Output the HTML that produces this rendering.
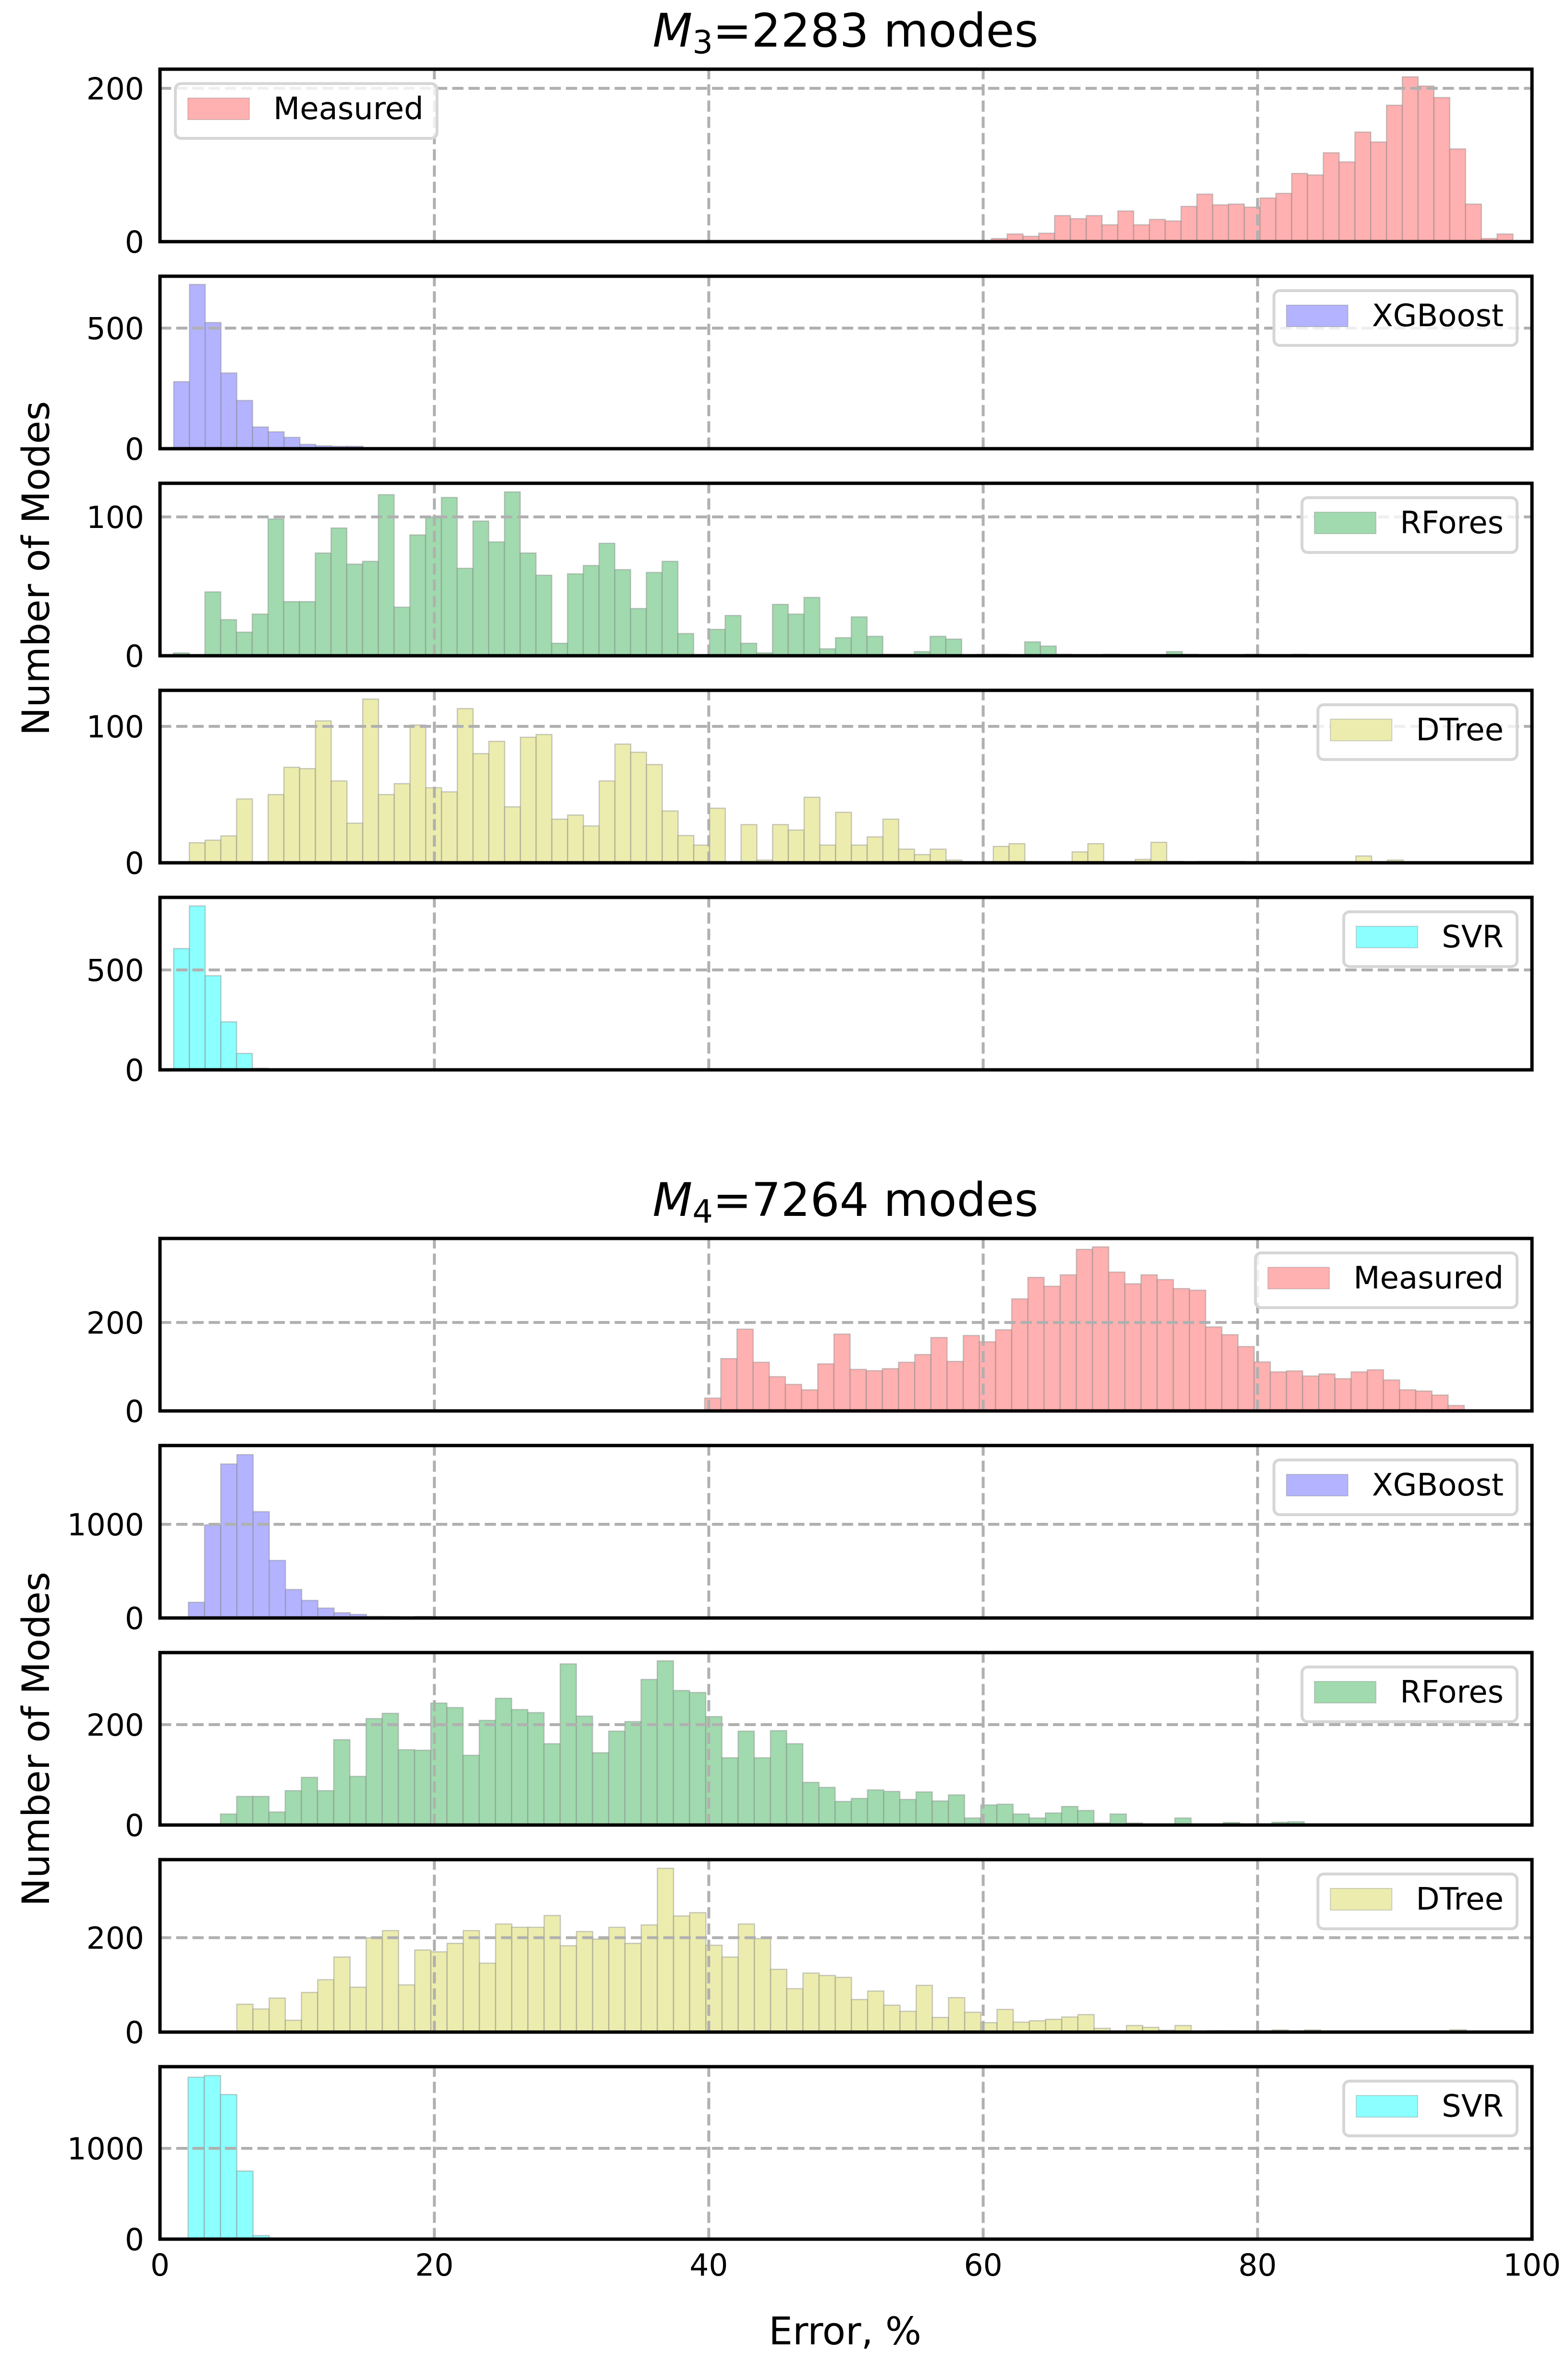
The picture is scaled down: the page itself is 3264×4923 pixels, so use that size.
<!DOCTYPE html>
<html lang="en">
<head>
<meta charset="utf-8">
<title>Error histograms for M3 and M4 modes</title>
<style>
  html, body { margin: 0; padding: 0; background: #ffffff; }
  svg { display: block; font-family: "DejaVu Sans", "Liberation Sans", sans-serif; }
</style>
</head>
<body>
<svg id="figure" xmlns="http://www.w3.org/2000/svg" width="3264" height="4923" viewBox="0 0 3264 4923">
  <rect x="0" y="0" width="3264" height="4923" fill="#ffffff"/>
  <text x="1760" y="97" font-size="96" text-anchor="middle" fill="#000"><tspan font-style="italic">M</tspan><tspan font-size="67" dy="14">3</tspan><tspan dy="-14">=2283 modes</tspan></text>
  <text x="1760" y="2531" font-size="96" text-anchor="middle" fill="#000"><tspan font-style="italic">M</tspan><tspan font-size="67" dy="14">4</tspan><tspan dy="-14">=7264 modes</tspan></text>
  <text transform="translate(102 1183) rotate(-90)" font-size="78.6" text-anchor="middle" fill="#000">Number of Modes</text>
  <text transform="translate(102 3620) rotate(-90)" font-size="78.6" text-anchor="middle" fill="#000">Number of Modes</text>
  <text x="1759" y="4880" font-size="79" text-anchor="middle" fill="#000">Error, %</text>
  <g id="panels"></g>
</svg>
<script>
// ---- Data ----
const modelLabels = ['Measured', 'XGBoost', 'RFores', 'DTree', 'SVR'];
const xTickValues = [0, 20, 40, 60, 80, 100];

const m3MeasuredValues = [4,10,7,11,34,30,34,22,40,22,29,27,46,62,48,49,45,57,63,89,87,116,104,143,130,178,215,203,188,121,49,4,10];
const m3XGBoostValues = [278,681,523,314,200,90,70,47,18,12,10,10,2,1];
const m3RForesValues = [2,0,46,26,17,30,98.5,39,39,74,92,66,68,116,35,87,100,114,63,97,82,118,74,58,9,59,65,81,62,34,60,68,16,0,19,29,9,2,37,30,42,5,13,28,14,1,1,3,14,12,0,1,1,0,10,7,1,0,0,1,0,0,0,3,1,0,0,0,1,0,0,1];
const m3DTreeValues = [14.7,16.6,19.7,46.8,0,50,70,69,104,60,29,120,50,58,101,55,52,113,80,89,41,92,94,32,35,27,60,87,81,72,38,20,13,40,0,28,2,28,24,48,13,37,13,19,32,10,6,10,2,0,0,12,14,0,0,0,8,14,0,0,2.5,15,1,0,1,1,1,0,0,0,0,0,0,0,5,0,2];
const m3SVRValues = [607,820,471,240,82,8];

const m4MeasuredValues = [29,118.4,185,110,77.5,60,47.8,106.5,173.8,94,91,95.6,110,127.5,166,112,170.6,156.4,183.6,253.5,302,282,307.8,365.4,371,314,287.5,307.8,297,276.7,273,190,172.4,145.6,110.8,88.3,90.5,79,83.7,73,88.3,93,70,47.8,45,36,12.3,2.5,1];
const m4XGBoostValues = [168,995,1644,1744,1135,615,304,188,106,56,38,17,15,8,15,3];
const m4RForesValues = [22,57,57,26,68.5,95,68.5,170,97,212,222.5,150,149,243,234,139,208.5,252.5,230,224,162,321,217,144,187,206,290,327,268,264,216,134,187,134,188,162,85,75,47,53,70,67,51,66,48,60,14,40,41.5,22,14,24,37,29,4,22,4,1,1,14,2,1,5,0,0,5.5,6.5,0,0,0,1.5];
const m4DTreeValues = [59,49,72,25,84,111,159,95,200,215,100,174,170,188,215,146,229,222,222,247,183,213,197,222,188,227,347,246,253,184,159,229,198,133,92,125,120,116,69,87,57,44,99,31,73,42,20,48,21,24,27,32,37,8,2,14,10,4,14,2,3,3,0,0,4.5,0,4.5,0,0,2,0,0,0,0,0,5];
const m4SVRValues = [1784,1802,1593,750,39];

// Histogram bin start and bin width (percent error) per model
const m3BinStarts = [60.6, 1.0, 0.98, 2.14, 1.0];
const m3BinWidths = [1.152, 1.15, 1.149, 1.149, 1.147];
const m4BinStarts = [39.7, 2.07, 4.41, 5.6, 2.05];
const m4BinWidths = [1.178, 1.18, 1.179, 1.179, 1.183];

// Y axis domains and tick labels per model
const m3YMax = [225, 715, 124.2, 126.4, 863];
const m4YMax = [390, 1841, 343.5, 365.4, 1900];
const m3YTicks = [[0, 200], [0, 500], [0, 100], [0, 100], [0, 500]];
const m4YTicks = [[0, 200], [0, 1000], [0, 200], [0, 200], [0, 1000]];

// ---- Layout and styling ----
const SVG_NS = 'http://www.w3.org/2000/svg';
const PLOT_LEFT = 333, PLOT_RIGHT = 3189, PANEL_HEIGHT = 359, PANEL_STEP = 431;
const GRID_COLOR = '#b0b0b0';
const EDGE_COLOR = 'rgba(130,130,130,0.42)';
const modelFills = ['#ffb0b0', '#b3b3ff', '#a0daae', '#ececae', '#8cffff'];

function xScale(v) {
  return PLOT_LEFT + (v - xTickValues[0]) / (xTickValues[xTickValues.length - 1] - xTickValues[0]) * (PLOT_RIGHT - PLOT_LEFT);
}
function yScale(v, top, yMax) {
  return top + PANEL_HEIGHT - (v / yMax) * PANEL_HEIGHT;
}
function make(tag, attrs, parent) {
  const node = document.createElementNS(SVG_NS, tag);
  for (const k in attrs) node.setAttribute(k, attrs[k]);
  parent.appendChild(node);
  return node;
}

function drawPanel(root, blockName, top, m, values, binStart, binWidth, yMax, yTicks, legendOnLeft, showXLabels) {
  const label = modelLabels[m].toLowerCase();
  const fill = modelFills[m];
  const baseY = yScale(0, top, yMax);

  const group = make('g', {}, root);
  
  

  values.forEach(function (v, i) {
    if (v <= 0) return;
    const x0 = xScale(binStart + i * binWidth);
    const x1 = xScale(binStart + (i + 1) * binWidth);
    const y = yScale(v, top, yMax);
    const bar = make('rect', { x: x0, y: y, width: x1 - x0, height: baseY - y, fill: fill, stroke: EDGE_COLOR, 'stroke-width': 2.5 }, group);
    
    
  });

  xTickValues.slice(1, -1).forEach(function (t) {
    const gx = xScale(t);
    const vLine = make('line', { x1: gx, x2: gx, y1: baseY, y2: top, stroke: GRID_COLOR, 'stroke-width': 6, 'stroke-dasharray': '23.4 10.4' }, group);
    
    
  });
  yTicks.slice(1).forEach(function (t) {
    const gy = yScale(t, top, yMax);
    const hLine = make('line', { x1: PLOT_LEFT, x2: PLOT_RIGHT, y1: gy, y2: gy, stroke: GRID_COLOR, 'stroke-width': 6, 'stroke-dasharray': '23.4 10.4' }, group);
    
    
  });

  yTicks.forEach(function (t) {
    const tick = make('text', { x: 300, y: yScale(t, top, yMax) + 23, 'font-size': 63, 'text-anchor': 'end', fill: '#000' }, group);
    tick.textContent = String(t);
    
    
  });

  const legend = make('g', {}, group);
  
  
  const legendBox = make('rect', { y: top + 30, height: 114, rx: 12, ry: 12, fill: 'rgba(255,255,255,0.8)', stroke: '#d6d6d6', 'stroke-width': 6 }, legend);
  
  
  const legendPatch = make('rect', { y: top + 60, width: 128, height: 45, fill: fill, stroke: 'rgba(130,130,130,0.35)', 'stroke-width': 2 }, legend);
  
  
  const legendText = make('text', { y: top + 104, 'font-size': 64, fill: '#000' }, legend);
  legendText.textContent = modelLabels[m];
  
  
  const textWidth = legendText.getComputedTextLength();
  const boxWidth = 204 + textWidth + 28;
  const boxLeft = legendOnLeft ? PLOT_LEFT + 32 : PLOT_RIGHT - 31 - boxWidth;
  legendBox.setAttribute('x', boxLeft);
  legendBox.setAttribute('width', boxWidth);
  legendPatch.setAttribute('x', boxLeft + 26);
  legendText.setAttribute('x', boxLeft + 204);

  const frame = make('rect', { x: PLOT_LEFT, y: top, width: PLOT_RIGHT - PLOT_LEFT, height: PANEL_HEIGHT, fill: 'none', stroke: '#000', 'stroke-width': 7 }, group);
  
  

  if (showXLabels) {
    xTickValues.forEach(function (t) {
      const xt = make('text', { x: xScale(t), y: baseY + 76, 'font-size': 63, 'text-anchor': 'middle', fill: '#000' }, group);
      xt.textContent = String(t);
      
      
    });
  }
}

const panelRoot = document.getElementById('panels');
const m3Series = [m3MeasuredValues, m3XGBoostValues, m3RForesValues, m3DTreeValues, m3SVRValues];
const m4Series = [m4MeasuredValues, m4XGBoostValues, m4RForesValues, m4DTreeValues, m4SVRValues];
const M3_TOP = 144, M4_TOP = 2578;

m3Series.forEach(function (values, m) {
  drawPanel(panelRoot, 'm3', M3_TOP + m * PANEL_STEP, m, values, m3BinStarts[m], m3BinWidths[m], m3YMax[m], m3YTicks[m], m === 0, false);
});
m4Series.forEach(function (values, m) {
  drawPanel(panelRoot, 'm4', M4_TOP + m * PANEL_STEP, m, values, m4BinStarts[m], m4BinWidths[m], m4YMax[m], m4YTicks[m], false, m === 4);
});
</script>
</body>
</html>
